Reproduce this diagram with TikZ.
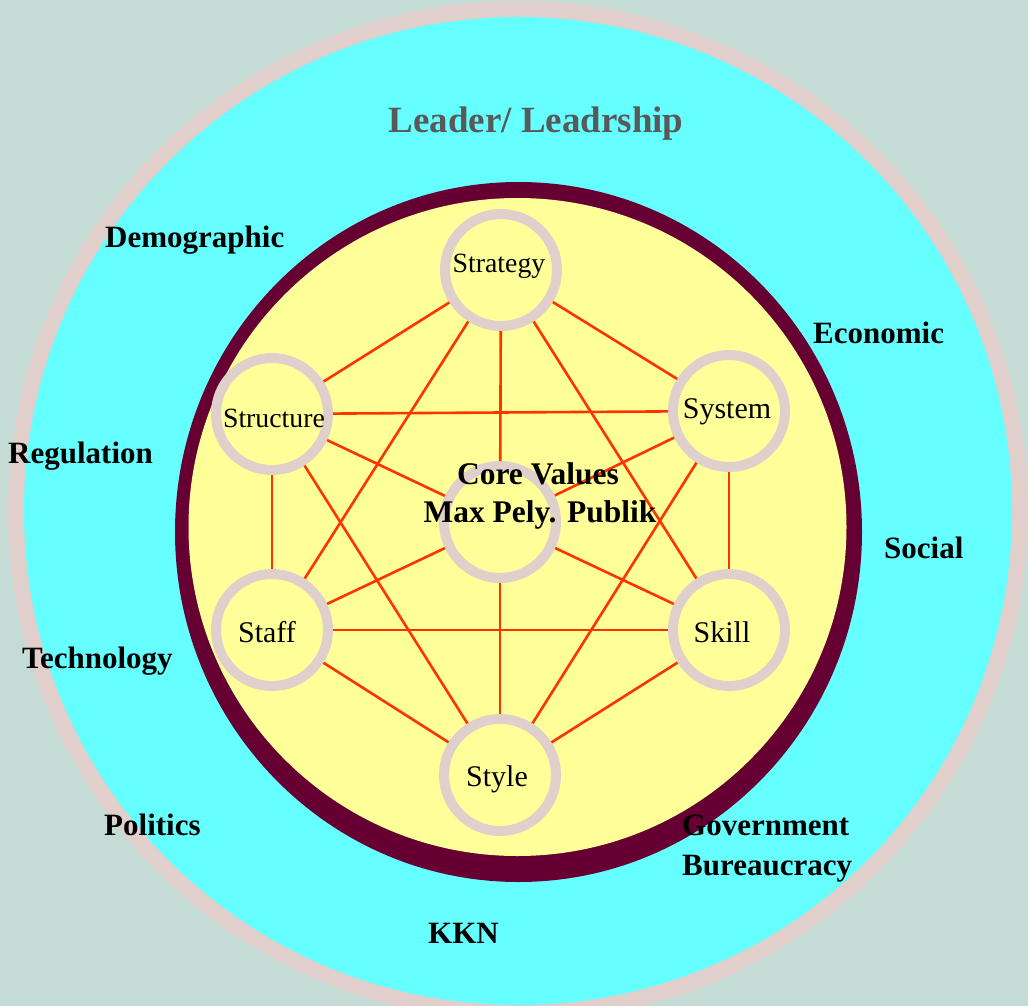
\documentclass[tikz,border=0pt]{standalone}
\usepackage{fontspec}
\setmainfont{Liberation Serif}
\definecolor{bgc}{HTML}{C4DCD5}
\definecolor{ringc}{HTML}{E0CFCA}
\definecolor{cyanc}{HTML}{66FFFF}
\definecolor{maroonc}{HTML}{660033}
\definecolor{yellowc}{HTML}{FFFF99}
\definecolor{nodering}{HTML}{E0D0CC}
\definecolor{linec}{HTML}{FF3300}
\definecolor{graytext}{HTML}{595959}
\begin{document}
\begin{tikzpicture}[x=1pt,y=-1pt,
  sevens/.style={circle, draw=nodering, fill=yellowc, line width=10pt, minimum size=112pt,
    inner sep=0pt, outer sep=5pt},
  stext/.style={anchor=base, inner sep=0pt, font=\fontsize{30}{36}\selectfont},
  smalltext/.style={stext, font=\fontsize{27.8}{32}\selectfont},
  link/.style={draw=linec, line width=2.6pt},
  envlabel/.style={anchor=base west, inner sep=0pt, font=\bfseries\fontsize{31}{37}\selectfont},
  corelabel/.style={anchor=base, inner sep=0pt, font=\bfseries\fontsize{31.5}{38}\selectfont},
]
\fill[bgc] (0,0) rectangle (1028,1006);
\useasboundingbox (0,0) rectangle (1028,1006);
\begin{scope}
  \clip (0,0) rectangle (1028,1006);
  \fill[ringc] (518,511) circle[radius=510pt];
  \fill[cyanc] (518,511) circle[radius=494pt];
\end{scope}
\fill[maroonc] (518.5,532) ellipse[x radius=343.5pt, y radius=350pt];
\fill[yellowc] (517.5,527) circle[radius=329pt];

% the seven S circles
\node[sevens] (strategy) at (501,270) {};
\node[sevens] (structure) at (272,414) {};
\node[sevens] (system) at (729,411) {};
\node[sevens] (core) at (500,522) {};
\node[sevens] (staff) at (272,630) {};
\node[sevens] (skill) at (729,630) {};
\node[sevens] (style) at (500,775) {};

% circle texts
\node[smalltext] (strategyT) at (499,272) {Strategy};
\node[smalltext] (structureT) at (274,427) {Structure};
\node[stext] (systemT) at (727,418) {System};
\node[stext] (staffT) at (267,642) {Staff};
\node[stext] (skillT) at (722,642) {Skill};
\node[stext] (styleT) at (497,786) {Style};

% connectors
\draw[link] (strategy) -- (structure);
\draw[link] (strategy) -- (system);
\draw[link] (strategy) -- (core);
\draw[link] (strategy) -- (staff);
\draw[link] (strategy) -- (skill);
\draw[link] (structure) -- (system);
\draw[link] (structure) -- (core);
\draw[link] (structure) -- (staff);
\draw[link] (structure) -- (style);
\draw[link] (system) -- (core);
\draw[link] (system) -- (skill);
\draw[link] (system) -- (style);
\draw[link] (core) -- (staff);
\draw[link] (core) -- (skill);
\draw[link] (core) -- (style);
\draw[link] (staff) -- (skill);
\draw[link] (staff) -- (style);
\draw[link] (skill) -- (style);

% core label
\node[corelabel] (core1) at (538,484) {Core Values};
\node[corelabel] (core2) at (540,522) {Max Pely. Publik};

% title
\node[anchor=base, inner sep=0pt, text=graytext, font=\bfseries\fontsize{37}{44}\selectfont] (leader) at (536,133) {Leader/ Leadrship};

% environment labels
\node[envlabel] (demo) at (105,247) {Demographic};
\node[envlabel] (econ) at (813,343) {Economic};
\node[envlabel] (regu) at (8,463) {Regulation};
\node[envlabel] (soci) at (884,558) {Social};
\node[envlabel] (tech) at (22,668) {Technology};
\node[envlabel] (poli) at (104,835) {Politics};
\node[envlabel] (gov1) at (682,835) {Government};
\node[envlabel] (gov2) at (682,875) {Bureaucracy};
\node[envlabel] (kkn) at (428,943) {KKN};
\end{tikzpicture}
\end{document}
